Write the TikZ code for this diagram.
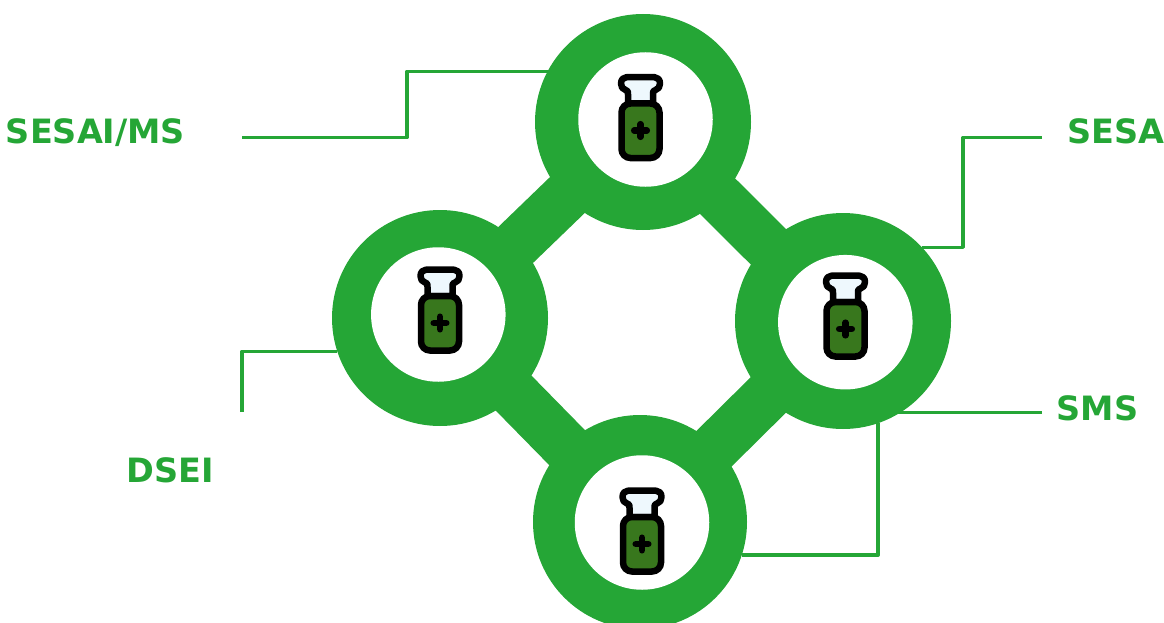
\documentclass[tikz,border=0pt]{standalone}
\usepackage{fontspec}
\setmainfont{DejaVu Sans}
\usepackage{tikz}
\usetikzlibrary{positioning,calc,backgrounds}
\usepackage{xcolor}
\definecolor{ringgreen}{HTML}{25A636}
\definecolor{vialgreen}{HTML}{38771D}
\definecolor{vialcap}{HTML}{EEF8FD}
\tikzset{
  ring/.style={circle,fill=ringgreen,minimum size=216pt,inner sep=0pt,outer sep=0pt},
  hole/.style={circle,fill=white,minimum size=134.5pt,inner sep=0pt,outer sep=0pt},
  link/.style={draw=ringgreen,line width=50pt},
  leader/.style={draw=ringgreen,line width=3.5pt,line join=round},
  labeltext/.style={text=ringgreen,font=\fontsize{33.5}{33.5}\selectfont\bfseries,inner sep=0pt,anchor=base},
  vial/.pic={
    \draw[black,fill=vialcap,line width=6.5pt,line join=round]
      (-12.5,-14) -- (-12.5,-23) .. controls (-12.5,-26.5) and (-13,-27) .. (-15,-27.5)
      .. controls (-18,-28) and (-19.5,-31) .. (-19.5,-34)
      .. controls (-19.5,-38) and (-17,-40.3) .. (-14,-40.3) -- (14,-40.3)
      .. controls (17,-40.3) and (19.5,-38) .. (19.5,-34)
      .. controls (19.5,-31) and (18,-28) .. (15,-27.5)
      .. controls (13,-27) and (12.5,-26.5) .. (12.5,-23) -- (12.5,-14) -- cycle;
    \draw[black,fill=vialgreen,line width=6.5pt,rounded corners=9pt]
      (-19,-14) rectangle (19,40.5);
    \draw[black,line width=6.5pt,line cap=round] (-6.3,13) -- (6.3,13) (0,6.7) -- (0,19.3);
  }
}
\begin{document}
\begin{tikzpicture}[x=1pt,y=-1pt]
\useasboundingbox (0,0) rectangle (1164,623);
% NODE 1: the four rings
\node[ring] (top) at (643,122) {};
\node[ring] (left) at (440,318) {};
\node[ring] (right) at (843,321) {};
\node[ring,minimum size=214pt] (bottom) at (640,522) {};
\node[hole] (tophole) at (645.5,119.5) {};
\node[hole] (lefthole) at (438.3,314.5) {};
\node[hole] (righthole) at (845.3,322.2) {};
\node[hole] (bottomhole) at (642,522.5) {};
% NODE 2: a vial inside each ring
\pic at (640.5,117.5) {vial};
\pic at (440,310) {vial};
\pic at (845.5,316) {vial};
\pic at (642,531) {vial};
% NODE 3: labels
\node[labeltext] (sesaims) at (95.5,143) {SESAI/MS};
\node[labeltext] (sesa) at (1116,143) {SESA};
\node[labeltext] (sms) at (1097.5,420) {SMS};
\node[labeltext] (dsei) at (170,482) {DSEI};
% free ends of the thin lines
\coordinate (sesaimsend) at (242,137.5);
\coordinate (sesaend) at (1042,137.5);
\coordinate (smsend) at (1042,412.5);
\coordinate (dseiend) at (242,412);
\begin{scope}[on background layer]
% thick links between rings
\foreach \a/\b in {top/left,top/right,left/bottom,right/bottom}
  \draw[link] (\a.center) -- (\b.center);
% thin lines
\draw[leader] (sesaimsend) -- (407,137.5) |- (top.152);
\draw[leader] (sesaend) -- (963,137.5) |- (right.43);
\draw[leader] (smsend) -| (right);
\draw[leader] (dseiend) |- (left.198);
\draw[leader] (bottom.-18) -| (right.-71);
\end{scope}
\end{tikzpicture}
\end{document}
